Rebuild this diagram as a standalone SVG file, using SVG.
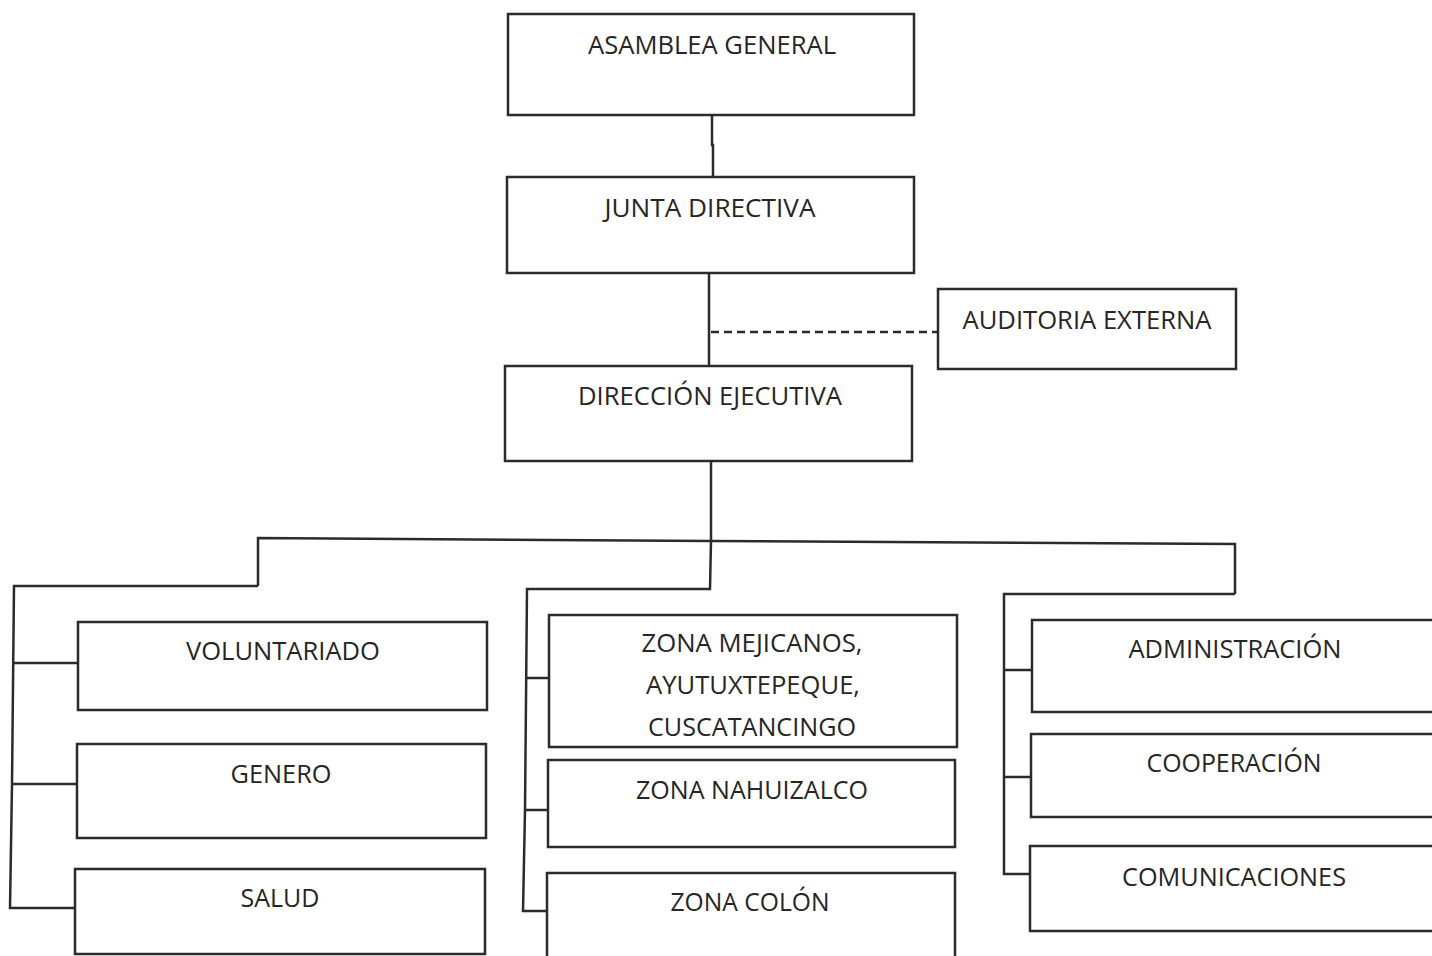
<svg xmlns="http://www.w3.org/2000/svg" width="1432" height="956" viewBox="0 0 1432 956">
<style>
.box{fill:#fff;stroke:#2b2b2b;stroke-width:2.5}
.ln{fill:none;stroke:#2b2b2b;stroke-width:2.5}
.dash{fill:none;stroke:#2b2b2b;stroke-width:2.5;stroke-dasharray:8 5}
text{font-family:"Open Sans","Liberation Sans",sans-serif;font-size:25px;fill:#262626;text-anchor:middle}
</style>
<rect width="1432" height="956" fill="#fff"/>
<g id="connectors">
<polyline class="ln" points="712,115 712,145 713,145 713,177"/>
<line class="ln" x1="709" y1="273" x2="709" y2="366"/>
<line class="dash" x1="711" y1="332" x2="938" y2="332"/>
<line class="ln" x1="711" y1="461" x2="711" y2="541"/>
<polyline class="ln" points="258,586 258,538 711,541 1235,544 1235,594"/>
<polyline class="ln" points="258,586 14,586 12,784 10,908 75,908"/>
<line class="ln" x1="14" y1="663" x2="78" y2="663"/>
<line class="ln" x1="12" y1="784" x2="77" y2="784"/>
<polyline class="ln" points="711,541 710,589 527,589 525,810 523,911 547,911"/>
<line class="ln" x1="527" y1="678" x2="549" y2="678"/>
<line class="ln" x1="525" y1="810" x2="548" y2="810"/>
<polyline class="ln" points="1235,594 1004,594 1004,874 1030,874"/>
<line class="ln" x1="1004" y1="670" x2="1032" y2="670"/>
<line class="ln" x1="1004" y1="777" x2="1031" y2="777"/>
</g>
<g id="asamblea"><rect class="box" x="508" y="14" width="406" height="101"/><text x="712" y="54" textLength="248" lengthAdjust="spacingAndGlyphs">ASAMBLEA GENERAL</text></g>
<g id="junta"><rect class="box" x="507" y="177" width="407" height="96"/><text x="710" y="217" textLength="211" lengthAdjust="spacingAndGlyphs">JUNTA DIRECTIVA</text></g>
<g id="auditoria"><rect class="box" x="938" y="289" width="298" height="80"/><text x="1087" y="329" textLength="249" lengthAdjust="spacingAndGlyphs">AUDITORIA EXTERNA</text></g>
<g id="direccion"><rect class="box" x="505" y="366" width="407" height="95"/><text x="710" y="405" textLength="264" lengthAdjust="spacingAndGlyphs">DIRECCIÓN EJECUTIVA</text></g>
<g id="voluntariado"><rect class="box" x="78" y="622" width="409" height="88"/><text x="283" y="660" textLength="194" lengthAdjust="spacingAndGlyphs">VOLUNTARIADO</text></g>
<g id="genero"><rect class="box" x="77" y="744" width="409" height="94"/><text x="281" y="783" textLength="101" lengthAdjust="spacingAndGlyphs">GENERO</text></g>
<g id="salud"><rect class="box" x="75" y="869" width="410" height="85"/><text x="280" y="907" textLength="79" lengthAdjust="spacingAndGlyphs">SALUD</text></g>
<g id="zona-mejicanos"><rect class="box" x="549" y="615" width="408" height="132"/>
<text x="752" y="652" textLength="221" lengthAdjust="spacingAndGlyphs">ZONA MEJICANOS,</text>
<text x="753" y="694" textLength="214" lengthAdjust="spacingAndGlyphs">AYUTUXTEPEQUE,</text>
<text x="752" y="736" textLength="208" lengthAdjust="spacingAndGlyphs">CUSCATANCINGO</text></g>
<g id="zona-nahuizalco"><rect class="box" x="548" y="760" width="407" height="87"/><text x="752" y="799" textLength="232" lengthAdjust="spacingAndGlyphs">ZONA NAHUIZALCO</text></g>
<g id="zona-colon"><rect class="box" x="547" y="873" width="408" height="100"/><text x="750" y="911" textLength="159" lengthAdjust="spacingAndGlyphs">ZONA COLÓN</text></g>
<g id="administracion"><rect class="box" x="1032" y="620" width="410" height="92"/><text x="1235" y="658" textLength="213" lengthAdjust="spacingAndGlyphs">ADMINISTRACIÓN</text></g>
<g id="cooperacion"><rect class="box" x="1031" y="734" width="410" height="83"/><text x="1234" y="772" textLength="175" lengthAdjust="spacingAndGlyphs">COOPERACIÓN</text></g>
<g id="comunicaciones"><rect class="box" x="1030" y="846" width="410" height="85"/><text x="1234" y="886" textLength="224" lengthAdjust="spacingAndGlyphs">COMUNICACIONES</text></g>
</svg>
